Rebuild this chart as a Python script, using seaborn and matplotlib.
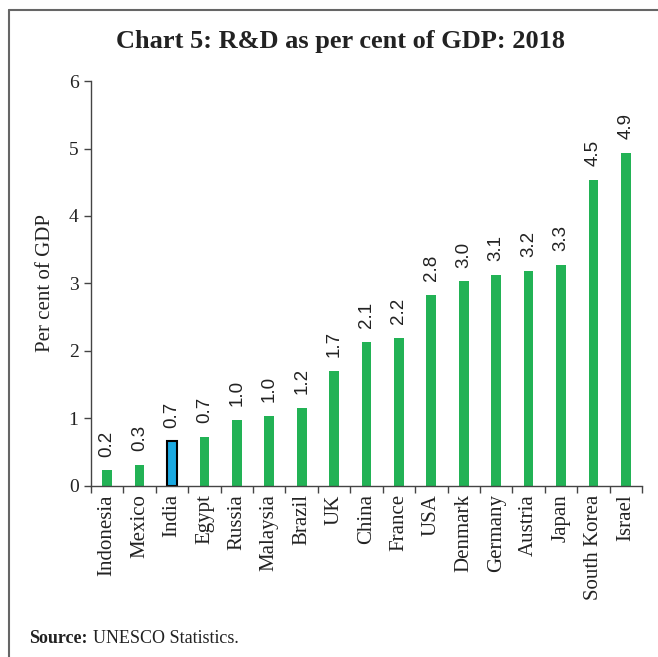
import matplotlib
matplotlib.use("Agg")
import matplotlib.pyplot as plt
from matplotlib.lines import Line2D
import seaborn as sns
import pandas as pd
import numpy as np

countries = ["Indonesia", "Mexico", "India", "Egypt", "Russia", "Malaysia", "Brazil",
             "UK", "China", "France", "USA", "Denmark", "Germany", "Austria", "Japan",
             "South Korea", "Israel"]
rd_share = [0.23, 0.31, 0.66, 0.72, 0.98, 1.04, 1.16, 1.70, 2.14, 2.19, 2.83, 3.03,
            3.13, 3.18, 3.27, 4.53, 4.94]
highlight = "India"

green = "#22b255"
blue = "#1aa9e1"

sns.set_theme(style="white")
plt.rcParams["font.family"] = ["Liberation Serif", "DejaVu Serif"]

df = pd.DataFrame({"country": countries, "value": rd_share})
palette = {c: (blue if c == highlight else green) for c in countries}

fig = plt.figure(figsize=(6.58, 6.57), dpi=100)
ax = fig.add_axes([0.1383, 0.2603, 0.8374, 0.6164])

sns.barplot(data=df, x="country", y="value", hue="country", palette=palette,
            width=0.3, legend=False, ax=ax, saturation=1)

for patch, c in zip(ax.patches, countries):
    if c == highlight:
        patch.set_edgecolor("black")
        patch.set_linewidth(1.5)
    else:
        patch.set_edgecolor("none")

# value labels above bars
for i, v in enumerate(rd_share):
    ax.annotate(f"{v:.1f}", xy=(i, v), xytext=(0, 10), textcoords="offset points",
                rotation=90, ha="center", va="bottom",
                fontsize=13.5, family="Liberation Sans", color="#222222")

ax.set_xlim(-0.5, len(countries) - 0.5)
ax.set_ylim(0, 6)
ax.set_yticks(range(0, 7))
ax.set_ylabel("Per cent of GDP", fontsize=15, color="#222222", labelpad=10)
ax.set_xlabel("")

ax.set_xticks(range(len(countries)))
ax.set_xticklabels(countries, rotation=90, fontsize=15, color="#222222")
ax.set_xticks(np.arange(-0.5, len(countries), 1.0), minor=True)
ax.tick_params(axis="x", which="major", length=0, pad=6)
ax.tick_params(axis="x", which="minor", length=5, width=1, color="#444444", direction="out")
ax.tick_params(axis="y", length=5, width=1, color="#444444", direction="out",
               labelsize=14, labelcolor="#222222", pad=4)
ax.tick_params(bottom=True, left=True, which="both")

sns.despine(ax=ax)
for s in ["left", "bottom"]:
    ax.spines[s].set_color("#444444")
    ax.spines[s].set_linewidth(1)

fig.text(0.517, 0.937, "Chart 5: R&D as per cent of GDP: 2018", ha="center", va="center",
         fontsize=19, fontweight="bold", color="#222222")

fig.text(0.044, 0.028, "Source:", fontsize=13, fontweight="bold", color="#222222",
         va="center", ha="left")
fig.text(0.141, 0.028, "UNESCO Statistics.", fontsize=13, color="#222222",
         va="center", ha="left")

# frame lines on the left and top of the figure
fig.add_artist(Line2D([0.013, 0.013], [0.0, 0.985], transform=fig.transFigure,
                      color="#666666", linewidth=1.5))
fig.add_artist(Line2D([0.013, 1.0], [0.985, 0.985], transform=fig.transFigure,
                      color="#666666", linewidth=1.5))

fig.savefig("out.png", dpi=100)
